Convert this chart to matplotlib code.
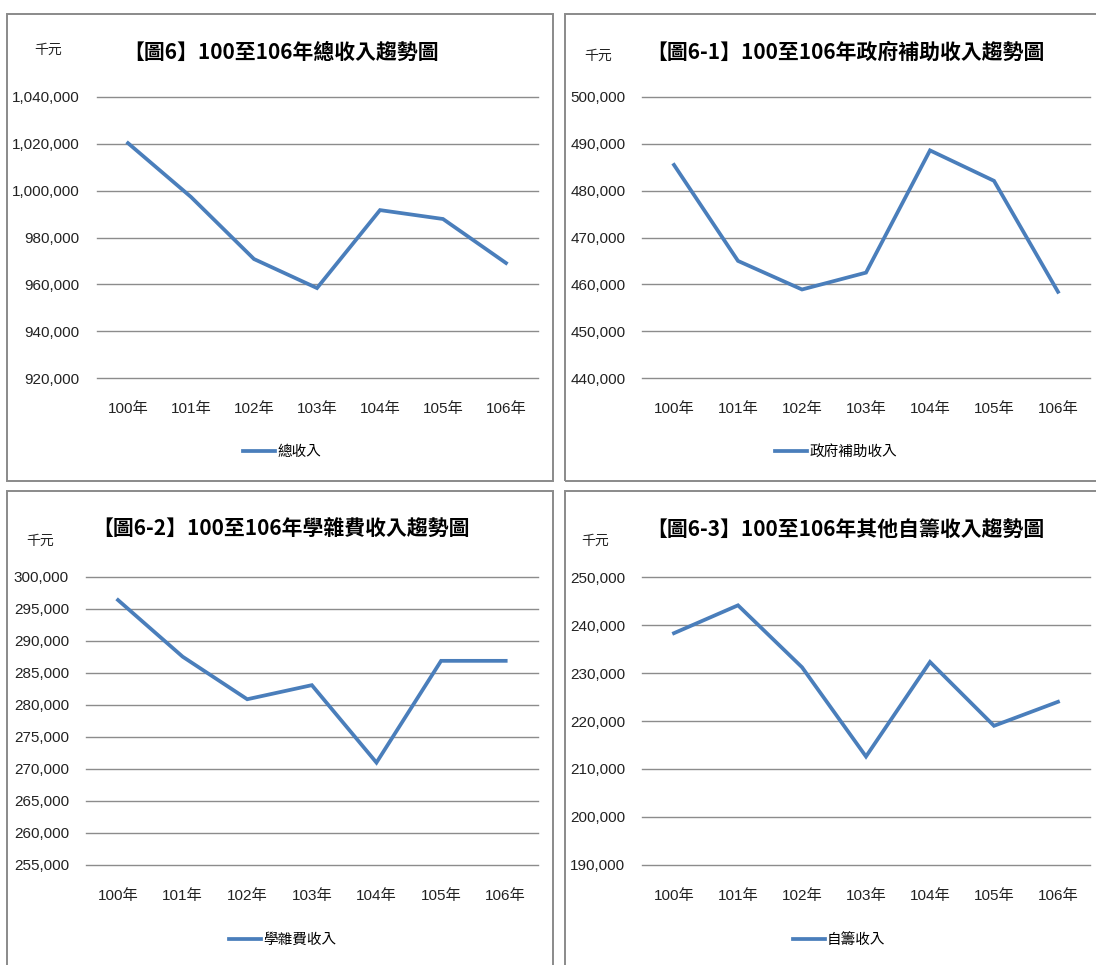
import matplotlib
matplotlib.use("Agg")
import matplotlib.pyplot as plt
from matplotlib.patches import Rectangle
from matplotlib.ticker import FuncFormatter

# data (thousand NTD)
years = ["100年", "101年", "102年", "103年", "104年", "105年", "106年"]
total_income = [1020300, 997300, 970800, 958400, 991700, 987900, 969100]
gov_subsidy = [485500, 465000, 458900, 462500, 488600, 482100, 458400]
tuition = [296400, 287550, 280900, 283100, 271000, 286900, 286900]
self_raised = [238300, 244100, 231200, 212600, 232300, 219000, 224000]

titles = ["【圖6】100至106年總收入趨勢圖",
          "【圖6-1】100至106年政府補助收入趨勢圖",
          "【圖6-2】100至106年學雜費收入趨勢圖",
          "【圖6-3】100至106年其他自籌收入趨勢圖"]
labels = ["總收入", "政府補助收入", "學雜費收入", "自籌收入"]
y_ticks = [list(range(920000, 1040001, 20000)),
           list(range(440000, 500001, 10000)),
           list(range(255000, 300001, 5000)),
           list(range(190000, 250001, 10000))]
series = [total_income, gov_subsidy, tuition, self_raised]

W, H = 1096, 965
LINE = "#4a7ebb"
GRID = "#8c8c8c"
CJK = ["Noto Sans CJK TC", "DejaVu Sans"]
NUM = ["Liberation Sans Narrow", "Liberation Sans", "Noto Sans CJK TC"]

fig = plt.figure(figsize=(W / 100, H / 100), dpi=100)
fig.patch.set_facecolor("white")

def fx(px):
    return px / W

def fy(py):
    return 1 - py / H

# panel layout in pixels: box (x0, y0, x1, y1), axes (x0, x1, ytop, ybot)
boxes = [(7, 14, 553, 481), (565, 14, 1110, 481),
         (7, 491, 553, 975), (565, 491, 1110, 975)]
axes_px = [(96.5, 537.5, 97, 378), (642, 1090, 97, 378),
           (85.7, 538, 577, 865), (642, 1090, 577, 865)]
title_pos = [(281, 52), (845, 52), (281, 529), (845, 529)]
unit_pos = [(48, 50), (598, 56), (40, 541), (595, 541)]
legend_pos = [(282, 452), (836, 452), (283, 940), (839, 940)]

for i in range(4):
    bx0, by0, bx1, by1 = boxes[i]
    fig.patches.append(Rectangle((fx(bx0), fy(by1)), fx(bx1 - bx0), (by1 - by0) / H,
                                 transform=fig.transFigure, fill=False,
                                 edgecolor="#8a8a8a", linewidth=1.4))

    x0, x1, yt, yb = axes_px[i]
    ax = fig.add_axes([fx(x0), fy(yb), fx(x1 - x0), (yb - yt) / H])
    xs = list(range(len(years)))
    line, = ax.plot(xs, series[i], color=LINE, linewidth=2.7,
                    solid_joinstyle="miter", label=labels[i])
    ax.set_xlim(-0.5, len(years) - 0.5)
    ax.set_ylim(y_ticks[i][0], y_ticks[i][-1])
    ax.set_yticks(y_ticks[i])
    ax.yaxis.set_major_formatter(FuncFormatter(lambda v, p: f"{int(v):,}"))
    ax.set_xticks(xs)
    ax.set_xticklabels(years)
    for sp in ax.spines.values():
        sp.set_visible(False)
    ax.grid(axis="y", color=GRID, linewidth=1.0)
    ax.set_axisbelow(True)
    for gl in ax.get_ygridlines():
        gl.set_clip_on(False)
    ax.tick_params(axis="both", length=0, labelsize=11, colors="#222222")
    ax.tick_params(axis="y", pad=12)
    ax.tick_params(axis="x", pad=17)
    for t in ax.get_xticklabels() + ax.get_yticklabels():
        t.set_family(NUM)

    tx, ty = title_pos[i]
    fig.text(fx(tx), fy(ty), titles[i], ha="center", va="center",
             fontsize=15, family=CJK, color="black", fontweight="bold")
    ux, uy = unit_pos[i]
    fig.text(fx(ux), fy(uy), "千元", ha="center", va="center",
             fontsize=10, family=CJK, color="#222222")
    lx, ly = legend_pos[i]
    fig.legend(handles=[line], loc="center", bbox_to_anchor=(fx(lx), fy(ly)),
               frameon=False, handlelength=2.2, handletextpad=0.15,
               prop={"family": CJK, "size": 10.5})

fig.savefig("out.png", dpi=100, facecolor="white")
